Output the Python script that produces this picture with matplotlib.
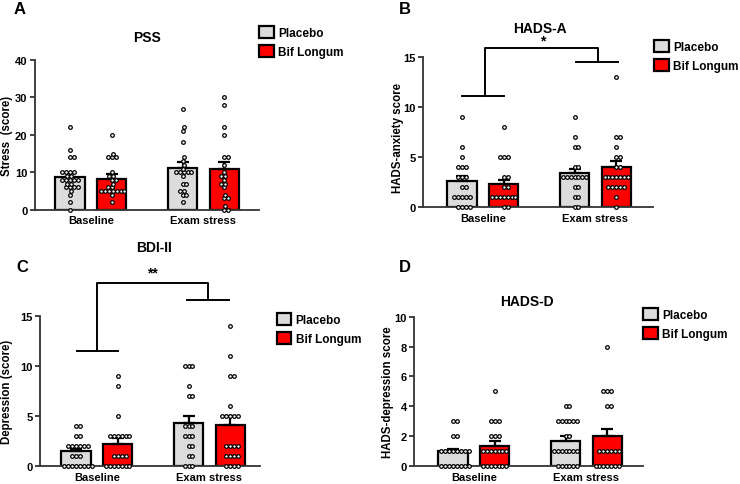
import numpy as np
import matplotlib.pyplot as plt
from matplotlib.patches import Patch

plt.rcParams['font.family'] = ['Liberation Sans', 'DejaVu Sans']
plt.rcParams['font.weight'] = 'bold'

W, H = 740, 485

groups = ['Baseline', 'Exam stress']
series = ['Placebo', 'Bif Longum']
bar_colors = ['#dcdcdc', '#ff0000']

# bar order: placebo/baseline, bif/baseline, placebo/exam, bif/exam
pss_means = [8.7, 8.3, 11.2, 10.8]
pss_sem = [1.0, 1.2, 1.5, 2.0]
pss_points = [
    [0, 2, 4, 5, 6, 6, 6, 6, 7, 7, 8, 8, 8, 8, 8, 9, 9, 10, 10, 10, 10, 14, 14, 16, 22],
    [2, 4, 5, 5, 5, 5, 5, 5, 5, 6, 6, 7, 8, 8, 9, 9, 10, 14, 14, 14, 15, 20],
    [2, 4, 4, 5, 5, 7, 7, 9, 10, 10, 10, 10, 10, 11, 12, 13, 14, 18, 21, 22, 27],
    [0, 0, 1, 3, 3, 4, 6, 7, 7, 8, 9, 9, 10, 12, 14, 14, 20, 22, 28, 30],
]

hadsa_means = [2.6, 2.25, 3.4, 4.0]
hadsa_sem = [0.5, 0.4, 0.4, 0.55]
hadsa_points = [
    [0, 0, 0, 0, 1, 1, 1, 1, 1, 2, 2, 3, 3, 3, 4, 4, 4, 5, 6, 9],
    [0, 0, 1, 1, 1, 1, 1, 1, 1, 2, 2, 3, 3, 5, 5, 5, 8],
    [0, 0, 1, 1, 2, 2, 3, 3, 3, 3, 3, 3, 3, 4, 4, 6, 6, 7, 9],
    [0, 1, 2, 2, 2, 2, 2, 3, 3, 3, 3, 3, 3, 3, 4, 4, 5, 5, 6, 7, 7, 13],
]

bdi_means = [1.45, 2.2, 4.25, 4.05]
bdi_sem = [0.25, 0.55, 0.7, 0.9]
bdi_points = [
    [0, 0, 0, 0, 0, 0, 0, 0, 1, 1, 1, 2, 2, 2, 2, 2, 2, 3, 3, 4, 4],
    [0, 0, 0, 0, 0, 0, 0, 1, 1, 1, 1, 3, 3, 3, 3, 3, 3, 5, 8, 9],
    [0, 0, 0, 1, 1, 2, 2, 3, 3, 3, 4, 4, 4, 7, 7, 8, 10, 10, 10],
    [0, 0, 0, 0, 1, 1, 1, 1, 2, 2, 2, 2, 5, 5, 5, 5, 5, 6, 9, 9, 11, 14],
]

hadsd_means = [1.0, 1.35, 1.7, 2.0]
hadsd_sem = [0.14, 0.3, 0.3, 0.5]
hadsd_points = [
    [0, 0, 0, 0, 0, 0, 0, 0, 1, 1, 1, 1, 1, 1, 1, 1, 2, 2, 3, 3],
    [0, 0, 0, 0, 0, 0, 0, 1, 1, 1, 1, 1, 1, 1, 2, 2, 2, 3, 3, 3, 5],
    [0, 0, 0, 0, 0, 0, 1, 1, 1, 1, 1, 1, 1, 2, 2, 3, 3, 3, 3, 3, 3, 4, 4],
    [0, 0, 0, 0, 0, 0, 0, 1, 1, 1, 1, 1, 1, 4, 4, 5, 5, 5, 8],
]

bar_x = np.array([0, 1, 2.7, 3.7])
group_x = [0.5, 3.2]
UNIT = 41.7  # px per x data unit


def px(x, y):
    return x / W, 1 - y / H


def swarm(ax, xc, values, d=3.9):
    '''Simple beeswarm: place each point as close to centre as possible.'''
    xs = []
    placed = []
    for v in sorted(values):
        y = ax.transData.transform((xc, v))[1]
        cands = [0.0]
        for (px_, py_) in placed:
            dy = abs(py_ - y)
            if dy < d:
                dx = np.sqrt(d * d - dy * dy)
                cands += [px_ + dx, px_ - dx]
        cands = sorted(cands, key=abs)
        for c in cands:
            if all((c - a) ** 2 + (y - b) ** 2 >= d * d - 1e-6 for a, b in placed):
                break
        placed.append((c, y))
        xs.append(xc + c / UNIT)
    return xs, sorted(values)


def panel(fig, box, c0, ymax, yticks, means, sem, points, ylabel, title,
          letter, label_pos, title_pos, letter_pos, legend_pos):
    left, top, right, bottom = box
    ax = fig.add_axes([left / W, 1 - bottom / H, (right - left) / W,
                       (bottom - top) / H])
    ax.set_xlim((left - c0) / UNIT, (right - c0) / UNIT)
    ax.set_ylim(0, ymax)
    for i in range(4):
        ax.bar(bar_x[i], means[i], width=0.7, color=bar_colors[i % 2],
               edgecolor='black', linewidth=1.6, zorder=2)
    ax.errorbar(bar_x, means, yerr=[np.zeros(4), sem], fmt='none',
                ecolor='black', elinewidth=1.6, capsize=4.5, capthick=1.6,
                zorder=3)
    for i in range(4):
        xs, ys = swarm(ax, bar_x[i], points[i])
        ax.plot(xs, ys, 'o', ms=2.6, mfc='white', mec='black', mew=0.9,
                zorder=4, clip_on=False)
    for s in ['top', 'right']:
        ax.spines[s].set_visible(False)
    for s in ['left', 'bottom']:
        ax.spines[s].set_linewidth(1.3)
        ax.spines[s].set_color('#333333')
    ax.set_yticks(yticks)
    ax.tick_params(axis='y', length=3.5, width=1.3, color='#333333',
                   labelsize=8, pad=1.5)
    ax.set_xticks(group_x)
    ax.set_xticklabels(groups)
    ax.tick_params(axis='x', length=0, labelsize=8, pad=4)
    fig.text(*px(*label_pos), ylabel, rotation=90, ha='center', va='center',
             fontsize=8.3, fontweight='bold')
    fig.text(*px(*title_pos), title, ha='center', va='center', fontsize=10,
             fontweight='bold')
    fig.text(*px(*letter_pos), letter, ha='center', va='center', fontsize=12,
             fontweight='bold')
    handles = [Patch(facecolor=c, edgecolor='black', linewidth=1.6)
               for c in bar_colors]
    fig.legend(handles, series, loc='upper left', bbox_to_anchor=px(*legend_pos),
               frameon=False, fontsize=8.5, handlelength=1.25, handleheight=1.25,
               labelspacing=0.45, handletextpad=0.35, borderpad=0,
               borderaxespad=0)
    return ax


def bracket(ax, lx, ly, rx, ry, top, xs_l, xs_r, star, star_x, star_y):
    kw = dict(color='black', lw=1.4, clip_on=False, zorder=5)
    ax.plot(xs_l, [ly, ly], **kw)
    ax.plot(xs_r, [ry, ry], **kw)
    ax.plot([lx, lx, rx, rx], [ly, top, top, ry], **kw)
    ax.text(star_x, star_y, star, ha='center', va='center', fontsize=10,
            fontweight='bold')


fig = plt.figure(figsize=(W / 100, H / 100), dpi=100)

panel(fig, (34.5, 61, 259, 210.7), 70, 40, [0, 10, 20, 30, 40],
      pss_means, pss_sem, pss_points, 'Stress  (score)', 'PSS', 'A',
      (7, 136), (147, 38), (19.5, 10), (259, 27))

axb = panel(fig, (423, 57.7, 653, 208), 462, 15, [0, 5, 10, 15],
            hadsa_means, hadsa_sem, hadsa_points, 'HADS-anxiety score',
            'HADS-A', 'B', (398, 138), (540, 29), (405, 10), (654, 41))
bracket(axb, 0.55, 11.05, 3.25, 14.44, 15.87, [0.0, 1.0], [2.73, 3.75],
        '*', 1.93, 16.6)

axc = panel(fig, (40, 316.7, 260, 467), 76, 15, [0, 5, 10, 15],
            bdi_means, bdi_sem, bdi_points, 'Depression (score)', 'BDI-II',
            'C', (7.5, 392), (154, 248), (22.5, 267), (276.7, 314))
bracket(axc, 0.5, 11.44, 3.17, 16.57, 18.26, [0.02, 1.0], [2.67, 3.67],
        '**', 1.83, 19.3)

panel(fig, (414, 317.7, 643, 467), 453, 10, [0, 2, 4, 6, 8, 10],
      hadsd_means, hadsd_sem, hadsd_points, 'HADS-depression score', 'HADS-D',
      'D', (388, 392), (527, 302), (405, 267), (643, 309))

fig.savefig('out.png', dpi=100)
